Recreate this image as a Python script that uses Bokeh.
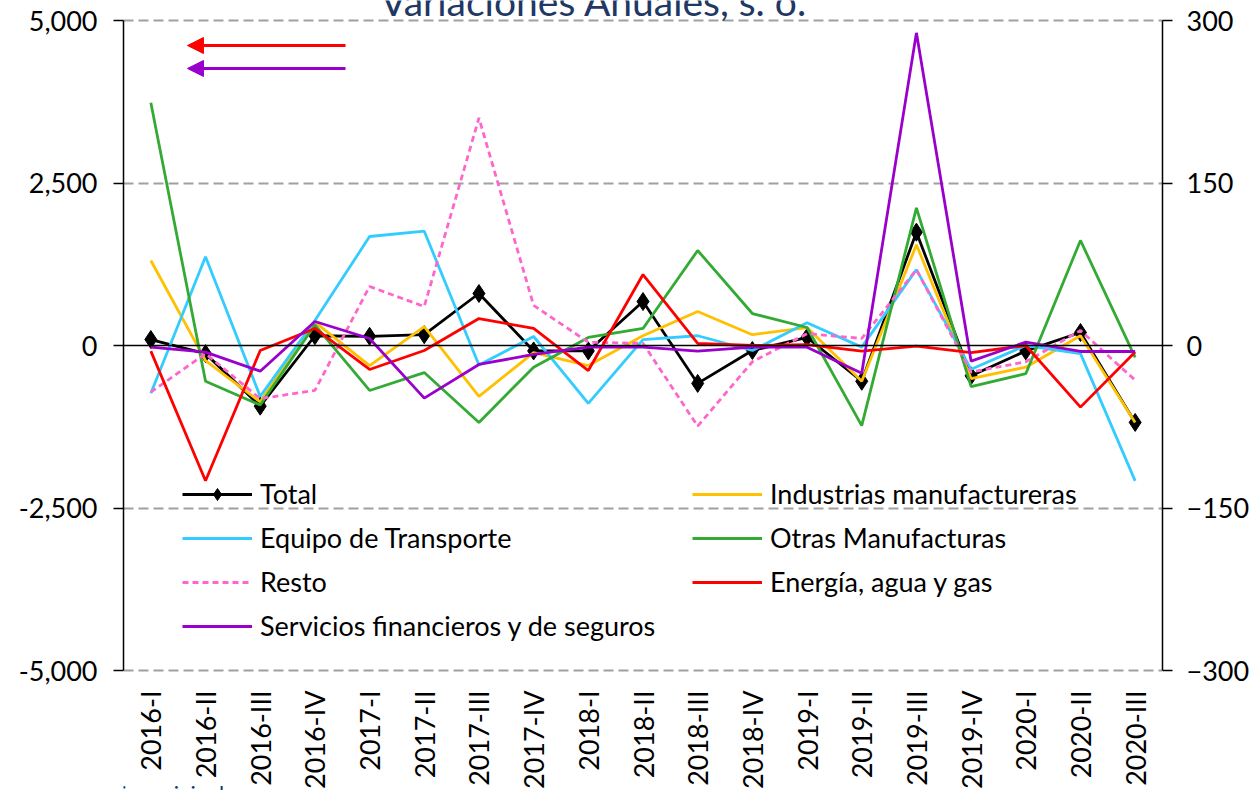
import math
from bokeh.plotting import figure
from bokeh.models import (Range1d, LinearAxis, FixedTicker, NumeralTickFormatter, Span,
                          Legend, LegendItem, Arrow, NormalHead, Label)
from bokeh.embed import file_html
from bokeh.resources import INLINE

categories = ["2016-I", "2016-II", "2016-III", "2016-IV", "2017-I", "2017-II", "2017-III", "2017-IV",
              "2018-I", "2018-II", "2018-III", "2018-IV", "2019-I", "2019-II", "2019-III", "2019-IV",
              "2020-I", "2020-II", "2020-III"]

# right axis series
total = [5.5, -7.5, -56, 9, 8.5, 10, 48, -5, -5, 40.6, -35, -4.6, 7.4, -33, 104.6, -28, -5, 12, -71]
industrias = [78.5, -14, -52, 21.5, -18.5, 17.5, -47, -6.5, -18.5, 9, 31.4, 10, 16.6, -33, 93, -30.5, -20, 9, -71]
equipo = [-44, 82, -47, 23, 100.6, 105.5, -18, 8.3, -53.5, 5.5, 9, -4.6, 21, -1.5, 70, -22, 0, -7.5, -125]
otras = [224, -33, -55, 19, -41.5, -25, -71, -20, 7.4, 15.7, 87.7, 29.5, 16.6, -74, 127, -38, -26, 97, -11]
resto = [-43, -7.5, -49, -41.5, 54.5, 36, 210, 37, 3, 2, -74.5, -15, 11, 6.5, 70, -24.6, -15, 13.8, -32]
# left axis series
energia = [-87, -2080, -77, 262, -369, -77, 415, 262, -385, 1092, 31, 0, 15, -87, -10, -108, 0, -948, -100]
servicios = [-26, -103, -395, 369, 108, -810, -292, -138, -26, -26, -87, -26, -26, -426, 4810, -241, 51, -92, -92]

left_ticks = [-5000, -2500, 0, 2500, 5000]
right_ticks = [-300, -150, 0, 150, 300]
LEFT_MIN, LEFT_MAX = -5000, 5000
RIGHT_MIN, RIGHT_MAX = -300, 300

FONT = "Lato"
NAVY = "#1F3864"

W, H = 1253, 790
PLOT_TOP_PX, PLOT_BOTTOM_PX = 20, 670  # where the axes' limits sit on the page

n = len(categories)
xs = [i + 0.5 for i in range(n)]

# extend the ranges so the frame covers the whole canvas height (title / note live in the margins)
lpp = (LEFT_MAX - LEFT_MIN) / (PLOT_BOTTOM_PX - PLOT_TOP_PX)
rpp = (RIGHT_MAX - RIGHT_MIN) / (PLOT_BOTTOM_PX - PLOT_TOP_PX)
y_left = Range1d(LEFT_MIN - (H - PLOT_BOTTOM_PX) * lpp, LEFT_MAX + PLOT_TOP_PX * lpp)
y_right = Range1d(RIGHT_MIN - (H - PLOT_BOTTOM_PX) * rpp, RIGHT_MAX + PLOT_TOP_PX * rpp)

p = figure(width=W, height=H, output_backend="svg", toolbar_location=None,
           x_range=Range1d(0, n), y_range=y_left,
           min_border_left=123, min_border_right=91, min_border_top=0, min_border_bottom=0,
           y_axis_location=None)
p.extra_y_ranges = {"right": y_right}
p.outline_line_color = None
p.background_fill_color = "white"
p.border_fill_color = "white"

# axes
yl = LinearAxis(ticker=FixedTicker(ticks=left_ticks), formatter=NumeralTickFormatter(format="0,0"),
                bounds=(LEFT_MIN, LEFT_MAX))
yr = LinearAxis(y_range_name="right", ticker=FixedTicker(ticks=right_ticks),
                bounds=(RIGHT_MIN, RIGHT_MAX))
for ax in (yl, yr):
    ax.axis_line_color = "black"
    ax.axis_line_width = 1.5
    ax.major_tick_line_color = "black"
    ax.major_tick_line_width = 1.5
    ax.major_tick_out = 10
    ax.major_tick_in = 0
    ax.minor_tick_line_color = None
    ax.major_label_text_font = FONT
    ax.major_label_text_font_size = "27px"
    ax.major_label_text_color = "black"
yl.major_label_standoff = 16
yr.major_label_standoff = 14
p.add_layout(yl, "left")
p.add_layout(yr, "right")

xa = p.xaxis[0]
xa.fixed_location = LEFT_MIN
xa.ticker = FixedTicker(ticks=xs)
xa.major_label_overrides = {x: c for x, c in zip(xs, categories)}
xa.major_label_orientation = math.pi / 2
xa.axis_line_color = None
xa.major_tick_line_color = None
xa.minor_tick_line_color = None
xa.major_label_text_font = FONT
xa.major_label_text_font_size = "27px"
xa.major_label_text_color = "black"
xa.major_label_standoff = 14

p.xgrid.grid_line_color = None
p.ygrid.ticker = FixedTicker(ticks=[-5000, -2500, 2500, 5000])
p.ygrid.grid_line_color = "#A0A0A0"
p.ygrid.grid_line_width = 2
p.ygrid.grid_line_dash = "10 5"

p.add_layout(Span(location=0, dimension="width", line_color="black", line_width=1.5))

LW = 2.8
r_total = p.line(xs, total, y_range_name="right", line_color="black", line_width=LW)
r_total_m = p.scatter(xs, total, y_range_name="right", marker="diamond",
                      size=18, fill_color="black", line_color="black")
r_ind = p.line(xs, industrias, y_range_name="right", line_color="#FFC000", line_width=LW)
r_eq = p.line(xs, equipo, y_range_name="right", line_color="#33CCFF", line_width=LW)
r_ot = p.line(xs, otras, y_range_name="right", line_color="#33AA33", line_width=LW)
r_re = p.line(xs, resto, y_range_name="right", line_color="#FF66CC", line_width=LW, line_dash="6 4")
r_en = p.line(xs, energia, line_color="#FF0000", line_width=LW)
r_se = p.line(xs, servicios, line_color="#9900CC", line_width=LW)

# column-wise fill: first column then second column
legend = Legend(items=[
    LegendItem(label="Total", renderers=[r_total, r_total_m]),
    LegendItem(label="Equipo de Transporte", renderers=[r_eq]),
    LegendItem(label="Resto", renderers=[r_re]),
    LegendItem(label="Servicios financieros y de seguros", renderers=[r_se]),
    LegendItem(label="Industrias manufactureras", renderers=[r_ind]),
    LegendItem(label="Otras Manufacturas", renderers=[r_ot]),
    LegendItem(label="Energía, agua y gas", renderers=[r_en]),
], ncols=2, location=(59, 28 + (H - PLOT_BOTTOM_PX)))
legend.border_line_color = None
legend.background_fill_alpha = 0
legend.padding = 0
legend.margin = 0
legend.spacing = 11
legend.glyph_width = 70
legend.glyph_height = 30
legend.label_height = 30
legend.label_width = 421
legend.label_standoff = 8
legend.label_text_font = FONT
legend.label_text_font_size = "27px"
legend.label_text_color = "black"
p.add_layout(legend)

# axis indicator arrows (decorations)
ARROW_X_TAIL, ARROW_X_TIP = 4.06, 1.17
for yv, col in ((4615, "#FF0000"), (4262, "#9900CC")):
    p.add_layout(Arrow(end=NormalHead(size=16, fill_color=col, line_color=col),
                       x_start=ARROW_X_TAIL, y_start=yv, x_end=ARROW_X_TIP, y_end=yv,
                       line_color=col, line_width=3))

p.add_layout(Label(x=8.6, y=5300, text="Variaciones Anuales, s. o.", text_align="center",
                   text_baseline="alphabetic", text_font=FONT, text_font_size="39px",
                   text_color=NAVY))
p.add_layout(Label(x=-1.7, y=-6680, text="s. o. / Series originales", text_align="left",
                   text_baseline="top", text_font=FONT, text_font_size="22px",
                   text_color=NAVY))

open("out.html", "w").write(file_html(p, INLINE))
